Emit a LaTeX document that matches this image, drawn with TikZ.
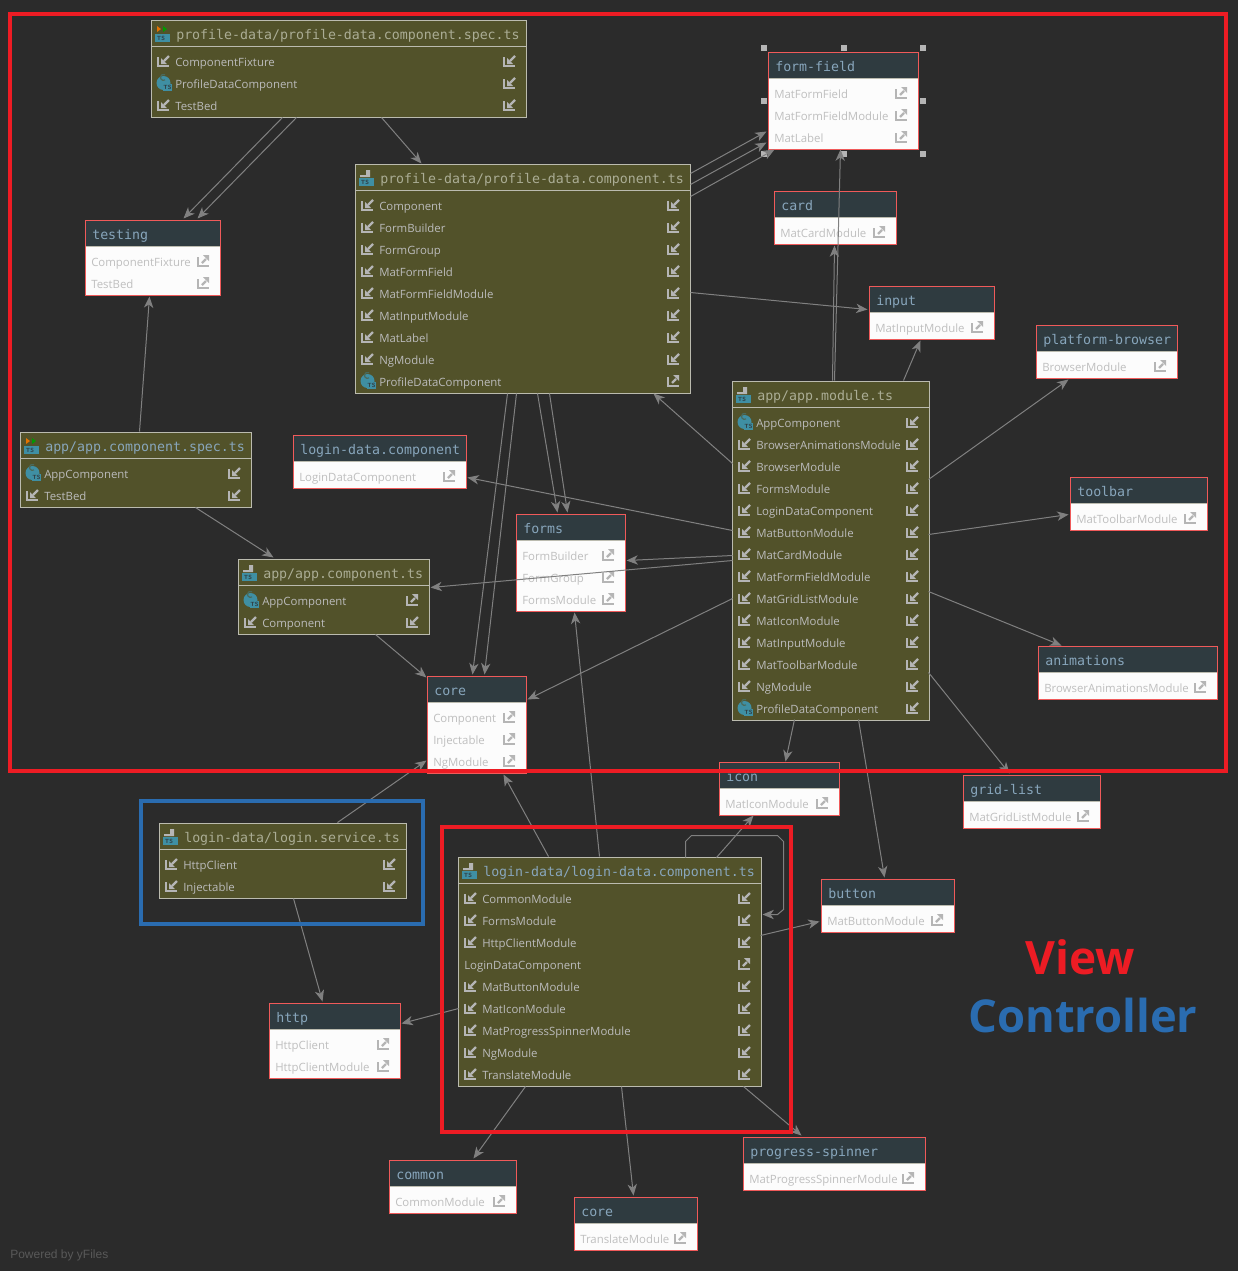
\documentclass[tikz,border=0pt]{standalone}
\usepackage{fontspec}
\setmainfont{Open Sans}
\setmonofont{DejaVu Sans Mono}
\newfontfamily\yfont{Liberation Sans}
\usetikzlibrary{arrows.meta}
\definecolor{canvas}{HTML}{2B2B2B}
\definecolor{olive}{HTML}{52522A}
\definecolor{oliveline}{HTML}{BBBBAF}
\definecolor{rowgrey}{HTML}{BBBBBB}
\definecolor{modhead}{HTML}{2F3B40}
\definecolor{modline}{HTML}{F05A5A}
\definecolor{modtext}{HTML}{BFBFBF}
\definecolor{modwhite}{HTML}{FCFCFC}
\definecolor{iconback}{HTML}{B5B5B5}
\definecolor{tsblue}{HTML}{3F8FA3}
\definecolor{edgegrey}{HTML}{808080}
\definecolor{titleblue}{HTML}{88A6BC}
\definecolor{titleolive}{HTML}{ABAD95}
\definecolor{viewred}{HTML}{ED1C24}
\definecolor{ctrlblue}{HTML}{2A6CB0}
\tikzset{
  filenode/.style={draw=oliveline,fill=olive,line width=.75pt,anchor=north west,inner sep=0pt,outer sep=0pt},
  modnode/.style={draw=modline,fill=modwhite,line width=.75pt,anchor=north west,inner sep=0pt,outer sep=0pt},
  titlelabel/.style={anchor=west,inner sep=0pt,font=\ttfamily\fontsize{9.95}{12}\selectfont,text height=8pt,text depth=2pt},
  rowlabel/.style={anchor=west,inner sep=0pt,font=\fontsize{8.55}{11}\selectfont,text height=7pt,text depth=2pt},
  depline/.style={draw=edgegrey,line width=.75pt,-{Stealth[length=8.5pt,width=7pt,inset=2.5pt]}},
  handlemark/.style={fill=iconback,draw=none,minimum size=3.8pt,inner sep=0pt},
  viewframe/.style={draw=viewred,line width=3.4pt},
  ctrlframe/.style={draw=ctrlblue,line width=3.2pt},
  inseti/.style={},insetc/.style={},insete/.style={},insetn/.style={xshift=-13.5pt},
  pics/impmark/.style={code={
    \draw[iconback,line width=1.8pt] (-5,-4) -- (-5,5) -- (6,5);
    \draw[iconback,line width=1.8pt] (6,-5) -- (1,0);
    \fill[iconback] (-2,-3) -- (-2,3) -- (4,3) -- cycle;}},
  pics/expmark/.style={code={
    \draw[iconback,line width=1.8pt] (-5,-4) -- (-5,5) -- (6,5);
    \draw[iconback,line width=1.8pt] (-1,2) -- (3,-2);
    \fill[iconback] (0,-6) -- (6,-6) -- (6,0) -- cycle;}},
  pics/classmark/.style={code={
    \fill[tsblue] (.5,0) circle (7);
    \draw[olive!60!tsblue,line width=.9pt] (2,-3) arc (60:300:3);
    \fill[tsblue] (0,1) rectangle (9,8);
    \node[inner sep=0pt,text=modhead,font=\sffamily\bfseries\fontsize{4.5}{5}\selectfont] at (4.5,4.5) {TS};}},
  pics/nomark/.style={code={}},
  pics/lefti/.style={code={\pic {impmark};}},
  pics/leftc/.style={code={\pic {classmark};}},
  pics/lefte/.style={code={\pic {classmark};}},
  pics/leftn/.style={code={\pic {nomark};}},
  pics/righti/.style={code={\pic {impmark};}},
  pics/rightc/.style={code={\pic {impmark};}},
  pics/righte/.style={code={\pic {expmark};}},
  pics/rightn/.style={code={\pic {expmark};}},
  pics/tsfile/.style={code={
    \fill[iconback] (0,-8) -- (4,-8) -- (4,-1) -- (-6,-1) -- (-6,-3) -- (0,-3) -- cycle;
    \fill[tsblue] (-7,0) rectangle (8,8);
    \node[inner sep=0pt,text=modhead,font=\sffamily\bfseries\fontsize{4.5}{5}\selectfont] at (-1,4) {TS};}},
  pics/specfile/.style={code={
    \fill[orange!90!black] (-5,-8) -- (-5,-2) -- (-1,-5) -- cycle;
    \fill[green!60!black] (1,-8) -- (1,-2) -- (5,-5) -- cycle;
    \fill[tsblue] (-7,0) rectangle (8,8);
    \node[inner sep=0pt,text=modhead,font=\sffamily\bfseries\fontsize{4.5}{5}\selectfont] at (-1,4) {TS};}},
}
\newcommand{\filebox}[8][tsfile]{
  \node[filenode,minimum width={(#4-#3+1)*.75pt},minimum height={(#6-#5+1)*.75pt}] (#2) at (#3-.5,#5-.5) {};
  \draw[oliveline,line width=.75pt] (#3-.5,#5+25.5) -- (#4+.5,#5+25.5);
  \pic at (#3+10,#5+13) {#1};
  \node[titlelabel,text=#7] (#2-title) at (#3+24,#5+14) {#8};
}
\newcommand{\filerows}[4]{
  \foreach \txt/\kind [count=\i from 0] in {#4} {
    \pgfmathsetmacro{\ry}{#3+15+22*\i}
    \pic at (#1+11,\ry-1) {left\kind};
    \node[rowlabel,inset\kind,text=rowgrey] (row-#1-\i) at (#1+23,\ry+1) {\txt};
    \pic at (#2-17,\ry-1) {right\kind};
  }
}
\newcommand{\modbox}[6]{
  \node[modnode,minimum width={(#3-#2+1)*.75pt},minimum height={(#5-#4+1)*.75pt}] (#1) at (#2-.5,#4-.5) {};
  \fill[modhead] (#2,#4) rectangle (#3,#4+25.5);
  \draw[oliveline,line width=.75pt] (#2,#4+25.5) -- (#3,#4+25.5);
  \node[titlelabel,text=titleblue] (#1-title) at (#2+6,#4+14) {#6};
}
\newcommand{\modrows}[4]{
  \foreach \txt [count=\i from 0] in {#4} {
    \pgfmathsetmacro{\ry}{#3+15+22*\i}
    \node[rowlabel,text=modtext] (mod-#1-\i) at (#1+5,\ry+1) {\txt};
    \pic at (#2-17,\ry-1) {expmark};
  }
}
\newcommand{\dep}[4]{\draw[depline] ([shift={(#2)}]#1.north west) -- ([shift={(#4)}]#3.north west);}
\begin{document}
\begin{tikzpicture}[x=.75pt,y=-.75pt]
\useasboundingbox (0,0) rectangle (1238,1271);
\fill[canvas] (0,0) rectangle (1238,1271);
\filebox[specfile]{spec}{152}{526}{21}{117}{titleolive}{profile-data/profile-data.component.spec.ts}
\filerows{152}{526}{47}{ComponentFixture/i,ProfileDataComponent/c,TestBed/i}
\filebox{profile}{356}{690}{165}{393}{titleolive}{profile-data/profile-data.component.ts}
\filerows{356}{690}{191}{Component/i,FormBuilder/i,FormGroup/i,MatFormField/i,MatFormFieldModule/i,MatInputModule/i,MatLabel/i,NgModule/i,ProfileDataComponent/e}
\filebox[specfile]{appspec}{21}{251}{433}{507}{titleblue}{app/app.component.spec.ts}
\filerows{21}{251}{459}{AppComponent/c,TestBed/i}
\filebox{appts}{239}{429}{560}{634}{titleolive}{app/app.component.ts}
\filerows{239}{429}{586}{AppComponent/e,Component/i}
\filebox{module}{733}{929}{382}{720}{titleolive}{app/app.module.ts}
\filerows{733}{929}{408}{AppComponent/c,BrowserAnimationsModule/i,BrowserModule/i,FormsModule/i,LoginDataComponent/i,MatButtonModule/i,MatCardModule/i,MatFormFieldModule/i,MatGridListModule/i,MatIconModule/i,MatInputModule/i,MatToolbarModule/i,NgModule/i,ProfileDataComponent/c}
\filebox{service}{160}{406}{824}{898}{titleolive}{login-data/login.service.ts}
\filerows{160}{406}{850}{HttpClient/i,Injectable/i}
\filebox{login}{459}{761}{858}{1086}{titleblue}{login-data/login-data.component.ts}
\filerows{459}{761}{884}{CommonModule/i,FormsModule/i,HttpClientModule/i,LoginDataComponent/n,MatButtonModule/i,MatIconModule/i,MatProgressSpinnerModule/i,NgModule/i,TranslateModule/i}
\modbox{formfield}{769}{918}{53}{149}{form-field}
\modrows{769}{918}{79}{MatFormField,MatFormFieldModule,MatLabel}
\modbox{card}{775}{896}{192}{244}{card}
\modrows{775}{896}{218}{MatCardModule}
\modbox{input}{870}{994}{287}{339}{input}
\modrows{870}{994}{313}{MatInputModule}
\modbox{platform}{1037}{1177}{326}{378}{platform-browser}
\modrows{1037}{1177}{352}{BrowserModule}
\modbox{testing}{86}{220}{221}{295}{testing}
\modrows{86}{220}{247}{ComponentFixture,TestBed}
\modbox{logincomp}{294}{466}{436}{488}{login-data.component}
\modrows{294}{466}{462}{LoginDataComponent}
\modbox{forms}{517}{625}{515}{611}{forms}
\modrows{517}{625}{541}{FormBuilder,FormGroup,FormsModule}
\modbox{toolbar}{1071}{1207}{478}{530}{toolbar}
\modrows{1071}{1207}{504}{MatToolbarModule}
\modbox{animations}{1039}{1217}{647}{699}{animations}
\modrows{1039}{1217}{673}{BrowserAnimationsModule}
\modbox{core}{428}{526}{677}{773}{core}
\modrows{428}{526}{703}{Component,Injectable,NgModule}
\modbox{icon}{720}{839}{763}{815}{icon}
\modrows{720}{839}{789}{MatIconModule}
\modbox{grid}{964}{1100}{776}{828}{grid-list}
\modrows{964}{1100}{802}{MatGridListModule}
\modbox{button}{822}{954}{880}{932}{button}
\modrows{822}{954}{906}{MatButtonModule}
\modbox{http}{270}{400}{1004}{1078}{http}
\modrows{270}{400}{1030}{HttpClient,HttpClientModule}
\modbox{common}{390}{516}{1161}{1213}{common}
\modrows{390}{516}{1187}{CommonModule}
\modbox{coreb}{575}{697}{1198}{1250}{core}
\modrows{575}{697}{1224}{TranslateModule}
\modbox{spinner}{744}{925}{1138}{1190}{progress-spinner}
\modrows{744}{925}{1164}{MatProgressSpinnerModule}
\foreach \hx/\hy [count=\i] in {764/48,844/48,923/48,764/101,923/101,764/154,844/154,923/154}
  \node[handlemark] (handle\i) at (\hx,\hy) {};
\dep{spec}{131,97}{testing}{98,-2}
\dep{spec}{145,97}{testing}{112,-2}
\dep{spec}{230,97}{profile}{66,-1}
\dep{profile}{335,9}{formfield}{-2,79}
\dep{profile}{335,20}{formfield}{-2,90}
\dep{profile}{335,32}{formfield}{6,97}
\dep{profile}{335,128}{input}{-2,23}
\dep{profile}{152,229}{core}{45,-2}
\dep{profile}{161,229}{core}{57,-2}
\dep{profile}{182,229}{forms}{41,-2}
\dep{profile}{194,229}{forms}{51,-2}
\dep{module}{0,82}{profile}{298,229}
\dep{module}{102,-1}{formfield}{72,97}
\dep{module}{100,-1}{card}{60,54}
\dep{module}{171,-1}{input}{51,54}
\dep{module}{196,98}{platform}{32,54}
\dep{module}{196,153}{toolbar}{-2,37}
\dep{module}{196,210}{animations}{23,-1}
\dep{module}{196,291}{grid}{46,-2}
\dep{module}{62,338}{icon}{66,-1}
\dep{module}{126,338}{button}{63,-2}
\dep{module}{0,149}{logincomp}{174,42}
\dep{module}{0,174}{forms}{110,46}
\dep{module}{0,179}{appts}{192,28}
\dep{module}{0,217}{core}{100,23}
\dep{appspec}{119,-1}{testing}{64,76}
\dep{appspec}{175,75}{appts}{35,-2}
\dep{appts}{137,75}{core}{-1,1}
\dep{service}{178,-1}{core}{-1,84}
\dep{service}{134,75}{http}{53,-2}
\dep{login}{90,-1}{core}{76,98}
\dep{login}{141,-1}{forms}{58,98}
\dep{login}{258,0}{icon}{34,53}
\draw[depline] ([shift={(227,0)}]login.north west) -- ++(0,-16) -- ++(6,-6) -- ++(86,0) -- ++(6,6) -- ++(0,68) -- ++(-6,5) -- ([shift={(304,57)}]login.north west);
\dep{login}{302,78}{button}{-2,42}
\dep{login}{0,151}{http}{132,20}
\dep{login}{67,229}{common}{84,-2}
\dep{login}{163,229}{coreb}{59,-2}
\dep{login}{285,229}{spinner}{58,-2}
\draw[viewframe] (10,14) rectangle (1226,771);
\draw[viewframe] (442,827) rectangle (791,1132);
\draw[ctrlframe] (141,801) rectangle (423,924);
\node[text=viewred,font=\bfseries\fontsize{34.5}{40}\selectfont,inner sep=0pt] (viewlabel) at (1080,957) {View};
\node[text=ctrlblue,font=\bfseries\fontsize{34}{40}\selectfont,inner sep=0pt] (ctrllabel) at (1083,1015) {Controller};
\node[anchor=west,inner sep=0pt,text=gray!70!black,font=\yfont\fontsize{9}{11}\selectfont] (poweredby) at (10,1255) {Powered by yFiles};
\end{tikzpicture}
\end{document}
